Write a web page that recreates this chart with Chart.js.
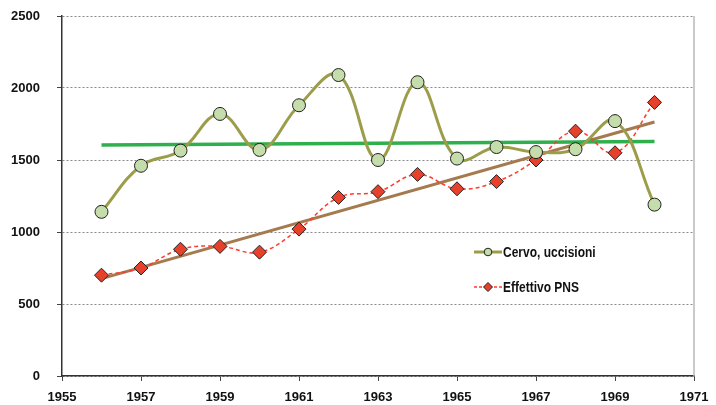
<!DOCTYPE html>
<html>
<head>
<meta charset="utf-8">
<script src="https://cdn.jsdelivr.net/npm/chart.js@4.4.0/dist/chart.umd.min.js"></script>
<style>
  html, body { margin: 0; padding: 0; background: #fff; }
  #wrap { width: 716px; height: 405px; }
</style>
</head>
<body>
<div id="wrap"><canvas id="myChart" width="716" height="405"></canvas></div>
<script>
var years = [1956, 1957, 1958, 1959, 1960, 1961, 1962, 1963, 1964, 1965, 1966, 1967, 1968, 1969, 1970];
var cervo = [1140, 1460, 1565, 1820, 1570, 1880, 2090, 1500, 2040, 1510, 1590, 1555, 1575, 1770, 1190];
var pns = [700, 750, 880, 900, 860, 1020, 1240, 1280, 1400, 1300, 1350, 1500, 1700, 1550, 1900];
// trend line end points
var trendYears = [1956, 1970];
var cervoTrend = [1604, 1628];
var pnsTrend = [676, 1764];
var seriesNames = ["Cervo, uccisioni", "Effettivo PNS"];

var FONT = "'Liberation Sans', Arial, sans-serif";

function pts(xs, ys) {
    var out = [];
    for (var i = 0; i < xs.length; i++) out.push({ x: xs[i], y: ys[i] });
    return out;
}

var cervoColor = '#9c9d4b';
var cervoFill = '#c5dcab';
var pnsColor = '#ff3b2c';
var pnsFill = '#e8412b';

// legend inside the plot + light right border
var extras = {
    id: 'extras',
    afterDraw: function (chart) {
        var ctx = chart.ctx;
        var a = chart.chartArea;
        ctx.save();
        ctx.strokeStyle = '#b8b8b8';
        ctx.lineWidth = 1.5;
        ctx.beginPath();
        ctx.moveTo(a.right, a.top);
        ctx.lineTo(a.right, a.bottom);
        ctx.stroke();

        var lx = 474, lx2 = 502, mx = 488;
        // row 1
        var y1 = 252;
        ctx.strokeStyle = cervoColor;
        ctx.lineWidth = 3;
        ctx.beginPath(); ctx.moveTo(lx, y1); ctx.lineTo(lx2, y1); ctx.stroke();
        ctx.fillStyle = cervoFill; ctx.strokeStyle = '#222'; ctx.lineWidth = 1;
        ctx.beginPath(); ctx.arc(mx, y1, 3.8, 0, Math.PI * 2); ctx.fill(); ctx.stroke();
        // row 2
        var y2 = 287;
        ctx.strokeStyle = pnsColor;
        ctx.lineWidth = 1.5;
        ctx.setLineDash([3, 2]);
        ctx.beginPath(); ctx.moveTo(lx, y2); ctx.lineTo(lx2, y2); ctx.stroke();
        ctx.setLineDash([]);
        ctx.fillStyle = pnsFill; ctx.strokeStyle = '#222'; ctx.lineWidth = 1;
        ctx.beginPath();
        ctx.moveTo(mx, y2 - 4.5); ctx.lineTo(mx + 4.5, y2); ctx.lineTo(mx, y2 + 4.5); ctx.lineTo(mx - 4.5, y2);
        ctx.closePath(); ctx.fill(); ctx.stroke();

        // narrow bold text: squeeze horizontally
        ctx.fillStyle = '#111';
        ctx.font = 'bold 15px ' + FONT;
        ctx.textBaseline = 'middle';
        ctx.textAlign = 'left';
        ctx.translate(503, 0);
        ctx.scale(0.8, 1);
        ctx.fillText(seriesNames[0], 0, y1 + 1);
        ctx.fillText(seriesNames[1], 0, y2 + 1);
        ctx.restore();
    }
};

var ctx = document.getElementById("myChart").getContext("2d");
new Chart(ctx, {
    type: 'line',
    data: {
        datasets: [
            {
                label: seriesNames[0],
                data: pts(years, cervo),
                borderColor: cervoColor,
                borderWidth: 3,
                backgroundColor: cervoFill,
                pointBackgroundColor: cervoFill,
                pointBorderColor: '#222',
                pointBorderWidth: 1,
                pointRadius: 6.5,
                pointStyle: 'circle',
                tension: 0.4
            },
            {
                label: seriesNames[1],
                data: pts(years, pns),
                borderColor: pnsColor,
                borderWidth: 1.5,
                borderDash: [4, 3],
                pointBackgroundColor: pnsFill,
                pointBorderColor: '#222',
                pointBorderWidth: 1,
                pointRadius: 7,
                pointStyle: 'rectRot',
                tension: 0.4
            },
            {
                label: 'trend cervo',
                data: pts(trendYears, cervoTrend),
                borderColor: '#2fb04c',
                borderWidth: 3.5,
                pointRadius: 0,
                tension: 0
            },
            {
                label: 'trend pns',
                data: pts(trendYears, pnsTrend),
                borderColor: '#a57a4e',
                borderWidth: 3,
                pointRadius: 0,
                tension: 0
            }
        ]
    },
    options: {
        responsive: false,
        animation: false,
        layout: { autoPadding: false, padding: { top: 16, right: 22, left: 0, bottom: 0 } },
        plugins: {
            legend: { display: false },
            tooltip: { enabled: false }
        },
        scales: {
            x: {
                type: 'linear',
                min: 1955,
                max: 1971,
                ticks: {
                    stepSize: 2,
                    color: '#111',
                    padding: 9,
                    font: { family: FONT, size: 13, weight: 'bold' },
                    callback: function (v) { return String(v); }
                },
                grid: { drawOnChartArea: false, drawTicks: true, tickLength: 5, tickColor: '#444' },
                border: { color: '#333', width: 1.5 },
                afterFit: function (s) {
                    s.height = 29;
                    s.paddingRight = 0;
                }
            },
            y: {
                min: 0,
                max: 2500,
                ticks: {
                    stepSize: 500,
                    color: '#111',
                    padding: 17,
                    font: { family: FONT, size: 13, weight: 'bold' },
                    callback: function (v) { return String(v); }
                },
                grid: { color: '#888', lineWidth: 1, tickLength: 5, tickColor: '#444' },
                border: { color: '#333', width: 1.5, dash: [2, 2] },
                afterFit: function (s) {
                    s.width = 62;
                    s.paddingTop = 8;
                    s.paddingBottom = 8;
                }
            }
        }
    },
    plugins: [extras]
});
</script>
</body>
</html>
